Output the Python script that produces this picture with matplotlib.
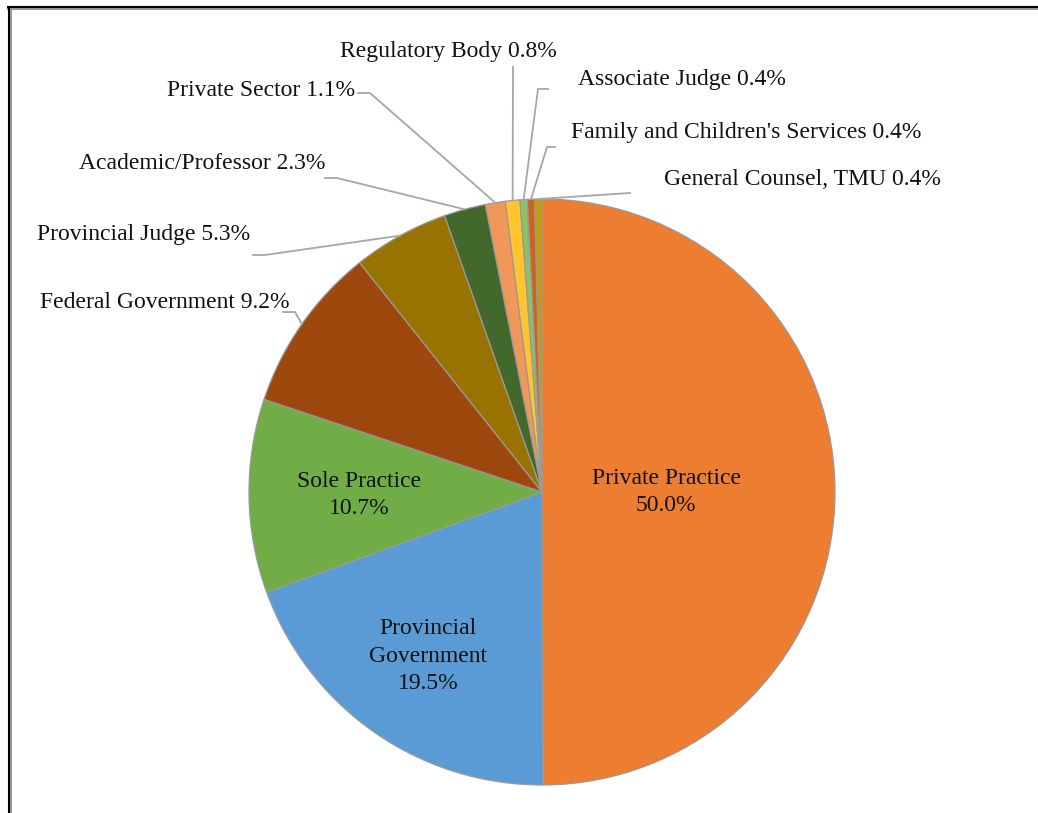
import numpy as np
import matplotlib
matplotlib.use("Agg")
import matplotlib.pyplot as plt
from matplotlib.lines import Line2D

# employment sectors of graduates (percent)
sectors = [
    "Private Practice",
    "Provincial Government",
    "Sole Practice",
    "Federal Government",
    "Provincial Judge",
    "Academic/Professor",
    "Private Sector",
    "Regulatory Body",
    "Associate Judge",
    "Family and Children's Services",
    "General Counsel, TMU",
]
shares = [50.0, 19.5, 10.7, 9.2, 5.3, 2.3, 1.1, 0.8, 0.4, 0.4, 0.4]
slice_colors = [
    "#ED7D31", "#5B9BD5", "#70AD47", "#9E480E", "#997300", "#43682B",
    "#F1975A", "#FFC42E", "#8CC168", "#D0621B", "#C49A0F",
]

# label text for the big slices sits inside the pie
inside_labels = {
    "Private Practice": "Private Practice",
    "Provincial Government": "Provincial\nGovernment",
    "Sole Practice": "Sole Practice",
}
inside_pos = {  # pixel centres
    "Private Practice": (666, 492),
    "Provincial Government": (428, 656),
    "Sole Practice": (359, 495),
}
# outside labels: text anchor (px), alignment, leader elbow and end (px)
outside = {
    "Federal Government": ((290, 308), "right", [(295, 312), (283, 312)]),
    "Provincial Judge": ((250, 240), "right", [(265, 255), (253, 255)]),
    "Academic/Professor": ((325, 169), "right", [(337, 178), (325, 178)]),
    "Private Sector": ((355, 96), "right", [(370, 93), (358, 93)]),
    "Regulatory Body": ((557, 57), "right", [(513, 67)]),
    "Associate Judge": ((578, 85), "left", [(538, 89), (548, 89)]),
    "Family and Children's Services": ((571, 138), "left", [(547, 147), (555, 147)]),
    "General Counsel, TMU": ((664, 185), "left", [(630, 193)]),
}

W, H = 1038, 813
plt.rcParams["font.family"] = ["Liberation Serif", "DejaVu Serif"]
fig = plt.figure(figsize=(W / 100, H / 100), dpi=100)


def px(x, y):
    return x / W, 1 - y / H


cx, cy, r = 542, 492, 293
ax = fig.add_axes([(cx - r) / W, (H - cy - r) / H, 2 * r / W, 2 * r / H])
wedges, _ = ax.pie(
    shares,
    colors=slice_colors,
    startangle=90,
    counterclock=False,
    radius=1,
    wedgeprops=dict(edgecolor="#9a9a9a", linewidth=0.9),
)
ax.set_xlim(-1, 1)
ax.set_ylim(-1, 1)
ax.set_aspect("equal")
ax.axis("off")

to_fig = fig.transFigure.inverted()
fs = 17

for name, wedge, val in zip(sectors, wedges, shares):
    if name in inside_labels:
        x, y = px(*inside_pos[name])
        fig.text(x, y, f"{inside_labels[name]}\n{val:.1f}%", ha="center",
                 va="center", fontsize=fs, linespacing=1.4, color="#111111")
        continue
    (tx, ty), ha, path = outside[name]
    x, y = px(tx, ty)
    fig.text(x, y, f"{name} {val:.1f}%", ha=ha, va="baseline",
             fontsize=fs, color="#111111")
    mid = np.deg2rad((wedge.theta1 + wedge.theta2) / 2)
    rim = to_fig.transform(ax.transData.transform((np.cos(mid), np.sin(mid))))
    pts = [tuple(rim)] + [px(*p) for p in path]
    xs, ys = zip(*pts)
    fig.add_artist(Line2D(xs, ys, color="#a6a6a6", linewidth=1.3,
                          transform=fig.transFigure))

# outer frame (left and top edges with a soft shadow)
for off, col in ((2, "#9a9a9a"), (0, "black")):
    fig.add_artist(Line2D([px(9 + off, 0)[0]] * 2, [px(0, 7 + off)[1], 0],
                          color=col, linewidth=1.5, transform=fig.transFigure))
    fig.add_artist(Line2D([px(8, 0)[0], 1], [px(0, 7 + off)[1]] * 2,
                          color=col, linewidth=1.5, transform=fig.transFigure))

fig.savefig("out.png", dpi=100)
